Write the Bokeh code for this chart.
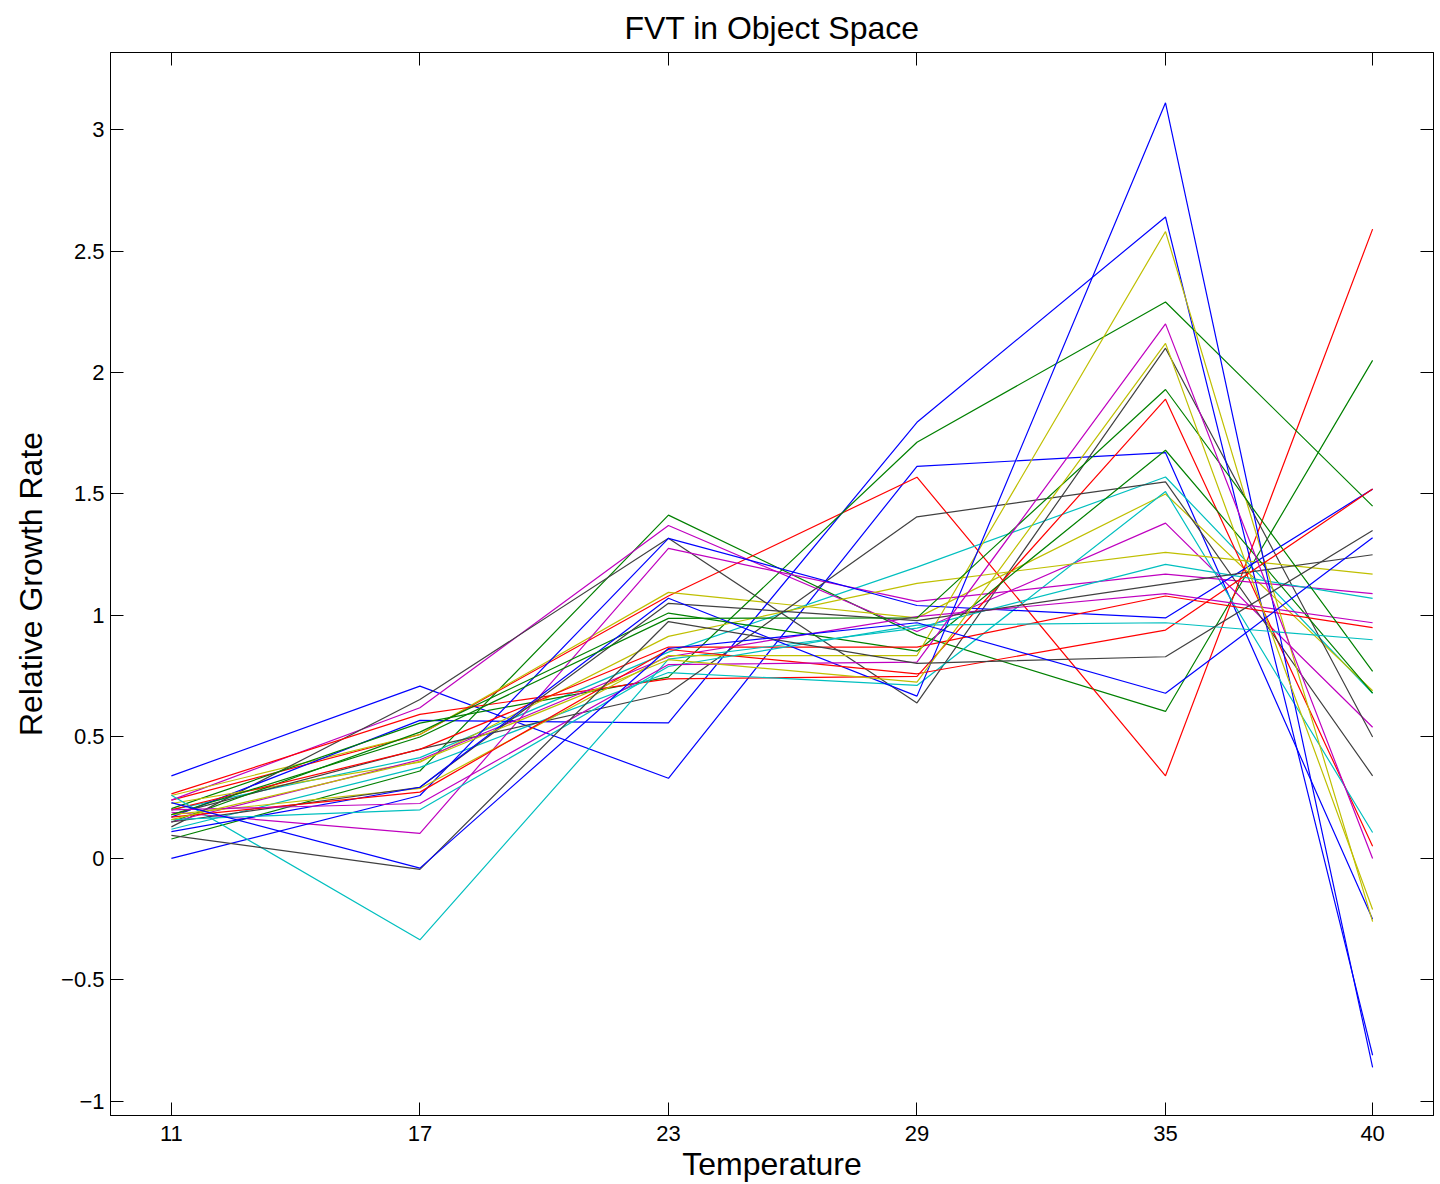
from bokeh.plotting import figure
from bokeh.models import Range1d, FixedTicker, CustomJSTickFormatter, LinearAxis
from bokeh.embed import file_html
from bokeh.resources import INLINE

# Temperatures at which the relative growth rate was evaluated
temperature = [11, 17, 23, 29, 35, 40]
temp_ticks = [11, 17, 23, 29, 35, 40]
rate_ticks = [-1, -0.5, 0, 0.5, 1, 1.5, 2, 2.5, 3]

# One relative-growth-rate profile per genotype (values at the six temperatures)
line_01 = [0.34, 0.709, 0.33, 1.614, 1.67, -0.25]
line_02 = [0.08, 0.36, 1.413, 0.92, 0.605, 2.05]
line_03 = [0.24, 0.51, 1.08, 1.569, 0.34, 2.59]
line_04 = [0.20, 0.415, 0.849, 1.199, 1.57, 0.68]
line_05 = [0.24, 0.62, 1.37, 0.934, 1.38, 0.54]
line_06 = [0.259, 0.51, 1.095, 0.99, 1.50, 0.69]
line_07 = [0.13, 0.654, 1.318, 0.64, 2.10, 0.50]
line_08 = [0.17, 0.568, 0.558, 1.795, 2.64, -0.81]
line_09 = [0.205, 0.557, 0.746, 1.713, 2.29, 1.45]
line_10 = [0.266, 0.593, 0.739, 0.749, 1.89, 0.05]
line_11 = [0.12, 0.375, 0.765, 0.712, 1.51, 0.107]
line_12 = [0.19, 0.103, 1.276, 1.058, 1.17, 1.09]
line_13 = [0.226, 0.396, 0.914, 1.132, 1.26, 1.17]
line_14 = [0.18, 0.45, 0.68, 1.406, 1.55, 0.34]
line_15 = [0.00, 0.259, 1.317, 1.041, 0.99, 1.52]
line_16 = [0.15, 0.52, 1.01, 0.853, 1.68, 0.68]
line_17 = [0.20, 0.449, 0.87, 0.87, 1.08, 0.95]
line_18 = [0.26, -0.335, 0.82, 0.948, 1.21, 1.07]
line_19 = [0.15, 0.406, 0.83, 0.995, 1.09, 0.97]
line_20 = [0.18, 0.288, 0.835, 0.835, 2.58, -0.26]
line_21 = [0.15, 0.293, 1.05, 0.979, 1.13, 1.25]
line_22 = [0.11, 0.293, 1.071, 0.668, 3.11, -0.86]
line_23 = [0.18, 0.50, 0.988, 0.99, 1.93, 0.77]
line_24 = [0.17, 0.273, 0.86, 0.76, 0.94, 1.52]
line_25 = [0.16, 0.20, 0.79, 0.96, 0.97, 0.90]
line_26 = [0.20, 0.226, 0.798, 0.808, 2.20, 0.00]
line_27 = [0.16, 0.40, 0.818, 0.726, 2.12, -0.21]
line_28 = [0.095, -0.045, 0.975, 0.803, 0.83, 1.35]
line_29 = [0.23, -0.04, 0.864, 0.97, 0.68, 1.32]

profiles = [line_01, line_02, line_03, line_04, line_05, line_06, line_07,
            line_08, line_09, line_10, line_11, line_12, line_13, line_14,
            line_15, line_16, line_17, line_18, line_19, line_20, line_21,
            line_22, line_23, line_24, line_25, line_26, line_27, line_28,
            line_29]

# Classic colour order: blue, green, red, cyan, magenta, olive, dark grey
color_cycle = ["#0000ff", "#008000", "#ff0000", "#00bfbf",
               "#bf00bf", "#bfbf00", "#404040"]

FONT = "Liberation Sans"

p = figure(width=1440, height=1184, output_backend="svg", toolbar_location=None,
           x_range=Range1d(9.53, 41.47), y_range=Range1d(-1.058, 3.317),
           min_border_left=110, min_border_right=7, min_border_top=52,
           min_border_bottom=69, title="FVT in Object Space")

p.background_fill_color = "white"
p.border_fill_color = "white"
p.outline_line_color = "black"
p.outline_line_width = 1
p.grid.visible = False

p.title.align = "center"
p.title.text_font = FONT
p.title.text_font_size = "32px"
p.title.text_font_style = "normal"
p.title.text_color = "black"
p.title.standoff = 14

minus_fmt = CustomJSTickFormatter(code="""
    return (tick < 0 ? "\u2212" : "") + Math.abs(tick).toString();
""")
blank_fmt = CustomJSTickFormatter(code="return '';")


def style_axis(ax, ticks, labelled):
    ax.ticker = FixedTicker(ticks=ticks)
    ax.major_tick_in = 13
    ax.major_tick_out = 0
    ax.minor_tick_in = 0
    ax.minor_tick_out = 0
    ax.axis_line_color = "black"
    ax.major_tick_line_color = "black"
    ax.major_label_text_font = FONT
    ax.major_label_text_color = "black"
    if labelled:
        ax.formatter = minus_fmt
        ax.major_label_text_font_size = "22px"
        ax.major_label_standoff = 10
        ax.axis_label_text_font = FONT
        ax.axis_label_text_font_size = "32px"
        ax.axis_label_text_font_style = "normal"
        ax.axis_label_text_color = "black"
        ax.axis_label_standoff = 2
    else:
        ax.formatter = blank_fmt
        ax.major_label_text_font_size = "0px"
        ax.major_label_standoff = 0


style_axis(p.xaxis[0], temp_ticks, True)
style_axis(p.yaxis[0], rate_ticks, True)
p.xaxis[0].axis_label = "Temperature"
p.yaxis[0].axis_label = "Relative Growth Rate"
p.yaxis[0].major_label_standoff = 6
p.yaxis[0].axis_label_standoff = 9

top_axis = LinearAxis()
style_axis(top_axis, temp_ticks, False)
p.add_layout(top_axis, "above")

right_axis = LinearAxis()
style_axis(right_axis, rate_ticks, False)
p.add_layout(right_axis, "right")

for i, prof in enumerate(profiles):
    p.line(temperature, prof, line_color=color_cycle[i % len(color_cycle)],
           line_width=1.2)

open("out.html", "w").write(file_html(p, INLINE))
